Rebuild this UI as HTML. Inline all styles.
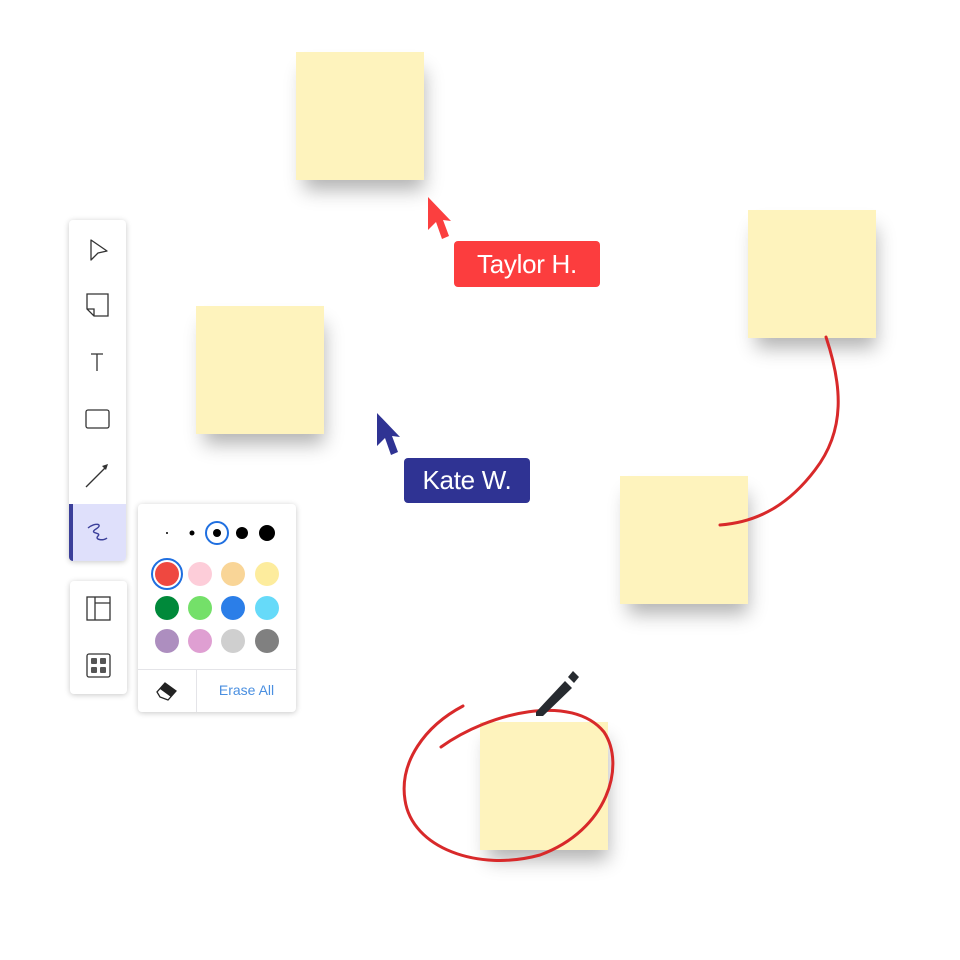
<!DOCTYPE html>
<html><head><style>
body{margin:0;width:960px;height:960px;background:#fff;position:relative;overflow:hidden;font-family:"Liberation Sans",sans-serif}
.n{position:absolute;width:128px;height:128px;background:#fef3bd;box-shadow:4px 14px 18px -4px rgba(0,0,0,0.3)}
.tb{position:absolute;background:#fff;border-radius:4px;box-shadow:0 1px 6px rgba(0,0,0,0.22)}
.lab{position:absolute;color:#fff;font-size:26px;border-radius:4px;text-align:center;letter-spacing:-0.3px}
</style></head><body>
<div class="n" style="left:296px;top:52px"></div>
<div class="n" style="left:748px;top:210px"></div>
<div class="n" style="left:196px;top:306px"></div>
<div class="n" style="left:620px;top:476px"></div>
<div class="n" style="left:480px;top:722px"></div>

<div class="tb" style="left:69px;top:220px;width:57px;height:341px;overflow:hidden">
<div style="position:absolute;left:0;top:284px;width:57px;height:57px;background:#dfe0fb;border-left:4px solid #3b3f9a;box-sizing:border-box"></div>
</div>
<div class="tb" style="left:70px;top:581px;width:57px;height:113px"></div>
<div class="tb" style="left:138px;top:504px;width:158px;height:208px">
<div style="position:absolute;left:0;right:0;top:165px;border-top:1px solid #e4e4e8"></div>
<div style="position:absolute;left:58px;top:165px;bottom:0;border-left:1px solid #e4e4e8"></div>
<div style="position:absolute;left:59px;right:0;top:178px;text-align:center;color:#4a8fe0;font-size:14px">Erase All</div>
</div>

<svg width="960" height="960" style="position:absolute;left:0;top:0" fill="none">
<g stroke="#333" stroke-width="1.3">
<path d="M91,240 L107,251 L98,253 L91,260 Z" stroke-linejoin="round"/>
<path d="M87,294 H108 V316 H94 L87,309 Z M87,309 H94 V316"/>
<path d="M91,354 H103 M97,354 V371"/>
<rect x="86" y="410" width="23" height="18" rx="2"/>
<path d="M86,487 L105,468"/>
<rect x="87" y="597" width="23" height="23"/><path d="M95,597 V620 M95,603 H110"/>
<rect x="87" y="654" width="23" height="23" rx="2"/>
</g>
<path d="M102,466 L108,464 L106,470 Z" fill="#333"/>
<g fill="#555"><rect x="91" y="658" width="6" height="6" rx="1"/><rect x="100" y="658" width="6" height="6" rx="1"/><rect x="91" y="667" width="6" height="6" rx="1"/><rect x="100" y="667" width="6" height="6" rx="1"/></g>
<path d="M88,528 C95,522 104,524 96,529 C88,534 102,532 98,536 C94,540 104,541 107,538" stroke="#3b3f9a" stroke-width="1.4"/>
<g fill="#000">
<circle cx="167" cy="533" r="1"/><circle cx="192" cy="533" r="2.5"/><circle cx="217" cy="533" r="4"/><circle cx="242" cy="533" r="6"/><circle cx="267" cy="533" r="8"/></g>
<circle cx="217" cy="533" r="11" stroke="#1f6fe0" stroke-width="2"/>
<circle cx="167" cy="574" r="15" stroke="#1f6fe0" stroke-width="2"/>
<circle cx="167" cy="574" r="12" fill="#ef4840"/>
<circle cx="200" cy="574" r="12" fill="#fdcdd9"/><circle cx="233" cy="574" r="12" fill="#f9d597"/><circle cx="267" cy="574" r="12" fill="#fdec9d"/>
<circle cx="167" cy="608" r="12" fill="#00893a"/><circle cx="200" cy="608" r="12" fill="#74e069"/><circle cx="233" cy="608" r="12" fill="#2b7ee8"/><circle cx="267" cy="608" r="12" fill="#66daf9"/>
<circle cx="167" cy="641" r="12" fill="#ad8ebf"/><circle cx="200" cy="641" r="12" fill="#df9fd2"/><circle cx="233" cy="641" r="12" fill="#cfcfcf"/><circle cx="267" cy="641" r="12" fill="#808080"/>
<path d="M165,683 L176,691 L168,700 L160,697 L157,692 Z" fill="#fff" stroke="#222" stroke-width="1.3"/>
<path d="M165,683 L176,691 L171,697 L160,689 Z" fill="#222"/>
<path d="M826,337 C842,385 846,430 815,470 C790,503 760,522 720,525" stroke="#d8292a" stroke-width="3" stroke-linecap="round"/>
<path d="M441,747 C490,712 572,693 604,732 C626,765 608,830 540,855 C478,872 412,848 405,800 C399,762 425,726 463,706" stroke="#d8292a" stroke-width="3" stroke-linecap="round"/>
<path d="M536,712 L565,681 L572,688 L543,716 L536,716 Z" fill="#272b30"/>
<path d="M568,677 L573,671 L579,677 L574,683 Z" fill="#272b30"/>
<path d="M428,197 L428,230 L436,222 L442,239 L449,236 L443,220 L451,221 Z" fill="#fb3f3f"/>
<path d="M377,413 L377,446 L385,438 L391,455 L398,452 L392,436 L400,437 Z" fill="#2f3393"/>
</svg>
<div class="lab" style="left:454px;top:241px;width:146px;height:46px;line-height:46px;background:#fc3d3e">Taylor H.</div>
<div class="lab" style="left:404px;top:458px;width:126px;height:45px;line-height:45px;background:#2f3393">Kate W.</div>
</body></html>
